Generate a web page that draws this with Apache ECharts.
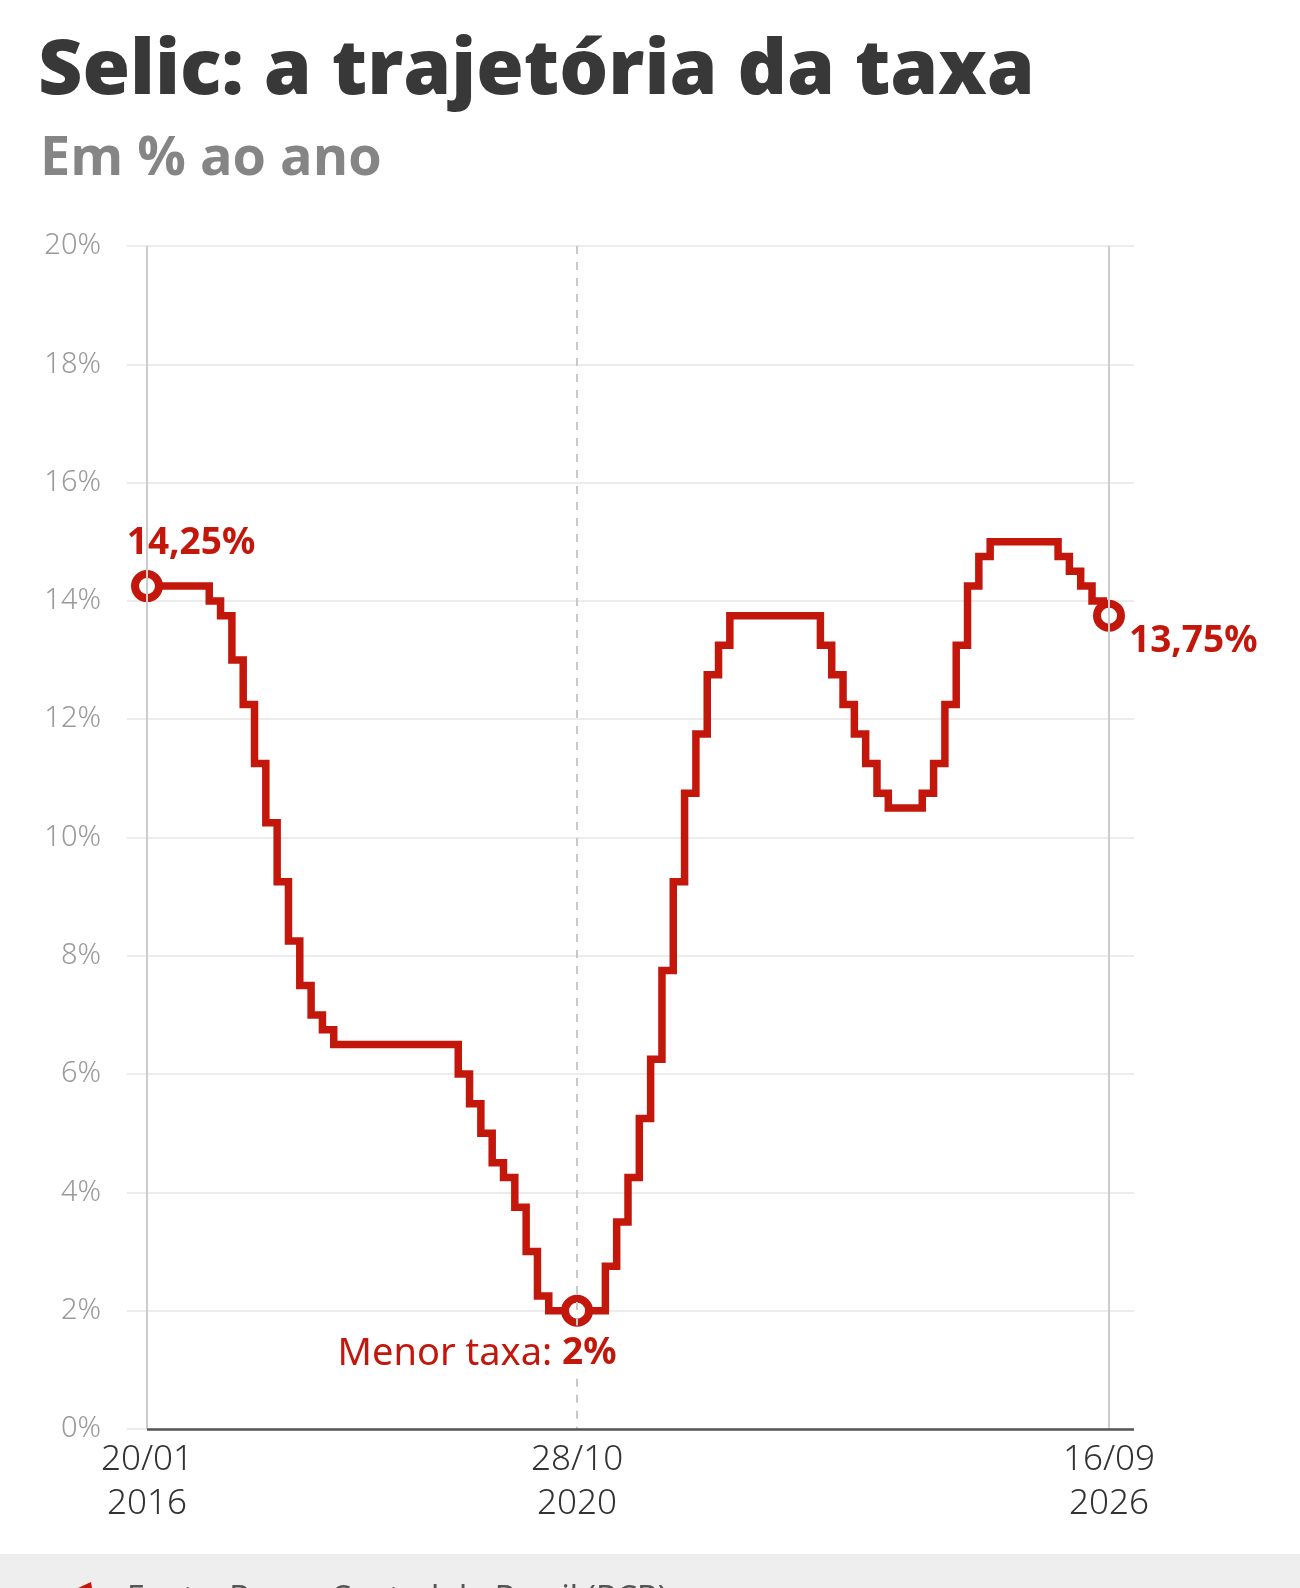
<!DOCTYPE html>
<html>
<head>
<meta charset="utf-8">
<script src="https://cdn.jsdelivr.net/npm/echarts@6/dist/echarts.min.js"></script>
<style>
  html, body { margin: 0; padding: 0; background: #fff; }
  #chart1 { width: 1300px; height: 1588px; }
</style>
</head>
<body>
<div id="chart1"></div>
<script>
    // reuniões do Copom (dd/mm/aaaa)
    var datas = [
        '20/01/2016','02/03/2016','27/04/2016','08/06/2016','20/07/2016','31/08/2016','19/10/2016','30/11/2016',
        '11/01/2017','22/02/2017','12/04/2017','31/05/2017','26/07/2017','06/09/2017','25/10/2017','06/12/2017',
        '07/02/2018','21/03/2018','16/05/2018','20/06/2018','01/08/2018','19/09/2018','31/10/2018','12/12/2018',
        '06/02/2019','20/03/2019','08/05/2019','19/06/2019','31/07/2019','18/09/2019','30/10/2019','11/12/2019',
        '05/02/2020','18/03/2020','06/05/2020','17/06/2020','05/08/2020','16/09/2020','28/10/2020','09/12/2020',
        '20/01/2021','17/03/2021','05/05/2021','16/06/2021','04/08/2021','22/09/2021','27/10/2021','08/12/2021',
        '02/02/2022','16/03/2022','04/05/2022','15/06/2022','03/08/2022','21/09/2022','26/10/2022','07/12/2022',
        '01/02/2023','22/03/2023','03/05/2023','21/06/2023','02/08/2023','20/09/2023','01/11/2023','13/12/2023',
        '31/01/2024','20/03/2024','08/05/2024','19/06/2024','31/07/2024','18/09/2024','06/11/2024','11/12/2024',
        '29/01/2025','19/03/2025','07/05/2025','18/06/2025','30/07/2025','17/09/2025','05/11/2025','10/12/2025',
        '28/01/2026','18/03/2026','29/04/2026','17/06/2026','29/07/2026','16/09/2026'
    ];
    // taxa Selic (% ao ano)
    var selic = [
        14.25,14.25,14.25,14.25,14.25,14.25,14.00,13.75,
        13.00,12.25,11.25,10.25,9.25,8.25,7.50,7.00,
        6.75,6.50,6.50,6.50,6.50,6.50,6.50,6.50,
        6.50,6.50,6.50,6.50,6.00,5.50,5.00,4.50,
        4.25,3.75,3.00,2.25,2.00,2.00,2.00,2.00,
        2.00,2.75,3.50,4.25,5.25,6.25,7.75,9.25,
        10.75,11.75,12.75,13.25,13.75,13.75,13.75,13.75,
        13.75,13.75,13.75,13.75,13.25,12.75,12.25,11.75,
        11.25,10.75,10.50,10.50,10.50,10.75,11.25,12.25,
        13.25,14.25,14.75,15.00,15.00,15.00,15.00,15.00,
        15.00,14.75,14.50,14.25,14.00,13.75
    ];
    // rótulos do eixo x (índices das reuniões) e pontos destacados
    var marcosX = [0, 38, 85];
    var destaques = [0, 38, 85];
    var ticksY = [0, 2, 4, 6, 8, 10, 12, 14, 16, 18, 20];

    var vermelho = '#c4170c';
    var passo = (1109 - 147) / 85;      // px por reunião
    var xMin = -20 / passo;
    var xMax = 85 + 25 / passo;

    function fmt(v) {
        return v.toFixed(2).replace('.', ',') + '%';
    }

    var pontos = selic.map(function (v, i) { return [i, v]; });

    var labelsDestaque = [
        { position: 'top', distance: 8, offset: [44, 0], formatter: function (p) { return '{b|' + fmt(p.value[1]) + '}'; } },
        { position: 'bottom', distance: 8, offset: [-100, 0],
          formatter: function (p) { return '{n|Menor taxa: }{b|' + String(p.value[1]).replace('.', ',') + '%}'; } },
        { position: 'right', distance: 4, offset: [0, 26], formatter: function (p) { return '{b|' + fmt(p.value[1]) + '}'; } }
    ];

    // linha tracejada interrompida atrás do rótulo "Menor taxa"
    var tracejado = { color: '#c8c8c8', width: 2, type: [8, 8] };

    var option = {
        animation: false,
        backgroundColor: '#ffffff',
        title: [{
            text: 'Selic: a trajetória da taxa',
            left: 33,
            top: 29,
            textStyle: { fontFamily: 'Open Sans', fontWeight: 800, fontSize: 77, color: '#383838' }
        }, {
            text: 'Em % ao ano',
            left: 35,
            top: 128,
            textStyle: { fontFamily: 'Open Sans', fontWeight: 700, fontSize: 54, color: '#858585' }
        }],
        grid: { left: 127, right: 166, top: 246, bottom: 159 },
        xAxis: {
            type: 'value',
            min: xMin,
            max: xMax,
            axisLine: { show: false },
            axisTick: { show: false },
            splitLine: { show: false },
            axisLabel: {
                customValues: marcosX,
                margin: 9,
                fontFamily: 'Noto Sans',
                fontWeight: 300,
                fontSize: 35,
                lineHeight: 44,
                color: '#333',
                formatter: function (v) {
                    var d = datas[Math.round(v)].split('/');
                    return d[0] + '/' + d[1] + '\n' + d[2];
                }
            }
        },
        yAxis: {
            type: 'value',
            min: ticksY[0],
            max: ticksY[ticksY.length - 1],
            interval: 2,
            axisLine: { show: false },
            axisTick: { show: false },
            axisLabel: {
                margin: 26,
                fontFamily: 'Noto Sans',
                fontWeight: 300,
                fontSize: 29,
                color: '#9a9a9a',
                formatter: '{value}%'
            },
            splitLine: { lineStyle: { color: '#ececec', width: 2 } }
        },
        series: [{
            // linhas de referência
            type: 'line',
            data: [],
            z: 1,
            silent: true,
            markLine: {
                symbol: 'none',
                silent: true,
                label: { show: false },
                data: [
                    { xAxis: marcosX[0], lineStyle: { color: '#cccccc', width: 2, type: 'solid' } },
                    [{ coord: [marcosX[1], ticksY[ticksY.length - 1]], lineStyle: tracejado }, { coord: [marcosX[1], 1.75] }],
                    [{ coord: [marcosX[1], 0.85], lineStyle: tracejado }, { coord: [marcosX[1], 0] }],
                    { xAxis: marcosX[2], lineStyle: { color: '#cccccc', width: 2, type: 'solid' } },
                    [{ coord: [0, 0], lineStyle: { color: '#555555', width: 2.5, type: 'solid' } }, { coord: [xMax, 0] }]
                ]
            }
        }, {
            name: 'Selic',
            type: 'line',
            step: 'middle',
            data: pontos,
            showSymbol: false,
            z: 3,
            lineStyle: { color: vermelho, width: 7.5, join: 'miter', cap: 'square' }
        }, {
            type: 'scatter',
            z: 4,
            symbol: 'circle',
            symbolSize: 24,
            itemStyle: { color: '#ffffff', borderColor: vermelho, borderWidth: 8, opacity: 1 },
            data: destaques.map(function (idx, k) {
                return {
                    value: [idx, selic[idx]],
                    label: Object.assign({
                        show: true,
                        rich: {
                            b: { fontFamily: 'Noto Sans', fontWeight: 700, fontSize: 37, color: vermelho },
                            n: { fontFamily: 'Noto Sans', fontWeight: 400, fontSize: 38, color: vermelho }
                        }
                    }, labelsDestaque[k])
                };
            })
        }],
        graphic: [{
            type: 'rect',
            shape: { x: 0, y: 1554, width: 1300, height: 40 },
            style: { fill: '#eeeeee' },
            silent: true
        }, {
            type: 'polygon',
            shape: { points: [[78, 1588], [91, 1582], [92, 1588]] },
            style: { fill: vermelho },
            silent: true
        }, {
            type: 'text',
            left: 127,
            top: 1584,
            style: {
                text: 'Fonte: Banco Central do Brasil (BCB)',
                fontFamily: 'Noto Sans',
                fontSize: 32,
                fill: '#555555'
            },
            silent: true
        }]
    };

    var myChart = echarts.init(document.getElementById('chart1'));
    myChart.setOption(option);
</script>
</body>
</html>
